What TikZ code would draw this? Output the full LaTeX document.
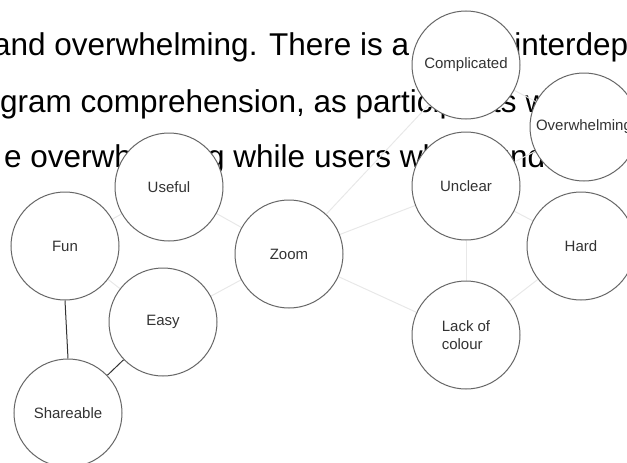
\documentclass[tikz,border=0pt]{standalone}
\usepackage{fontspec}
\setmainfont{Liberation Sans}
\usepackage{xcolor}
\definecolor{ringgray}{RGB}{102,102,102}
\definecolor{labelgray}{RGB}{51,51,51}
\definecolor{faintgray}{RGB}{232,232,232}
\definecolor{darkedge}{RGB}{51,51,51}
\pgfdeclarelayer{back}
\pgfsetlayers{back,main}
\tikzset{
  topic/.style={circle, draw=ringgray, line width=1pt, fill=white, minimum size=108pt,
    inner sep=0pt, text=labelgray, font=\fontsize{15}{18}\selectfont, align=left},
  prose/.style={anchor=base west, inner sep=0pt, font=\fontsize{31.5}{38}\selectfont},
  weak/.style={draw=faintgray, line width=1pt},
  strong/.style={draw=darkedge, line width=1pt}
}

\begin{document}
\begin{tikzpicture}[x=1pt,y=-1pt]
\useasboundingbox (0,0) rectangle (627,463);

%Shape: Circle nodes
\node[topic] (compl) at (466,65) {Complicated};
\node[topic] (overw) at (584,127) {Overwhelming};
\node[topic] (unclear) at (466,186) {Unclear};
\node[topic] (hard) at (581,246) {Hard};
\node[topic] (lack) at (466,335) {Lack of\\colour};
\node[topic] (zoom) at (289,254) {Zoom};
\node[topic] (useful) at (169,187) {Useful};
\node[topic] (fun) at (65,246) {Fun};
\node[topic] (easy) at (163,322) {Easy};
\node[topic] (share) at (68,413) {Shareable};

\begin{pgfonlayer}{back}
% Text Node
\node[prose] (line2) at (-7,55) {and overwhelming. There is a strong interdependence};
% Text Node
\node[prose] (line3) at (0,112) {gram comprehension, as participants who};
% Text Node
\node[prose] (line4) at (4,167) {e overwhelming while users who found};

%Straight Lines
\draw[strong] (fun.south) -- (share.north);
\draw[strong] (easy) -- (share);
%Straight Lines
\draw[weak] (useful) -- (fun);
\draw[weak] (fun) -- (easy);
\draw[weak] (useful) -- (zoom);
\draw[weak] (easy) -- (zoom);
\draw[weak] (zoom) -- (compl);
\draw[weak] (zoom) -- (unclear);
\draw[weak] (zoom) -- (lack);
\draw[weak] (compl) -- (overw);
\draw[weak] (unclear) -- (overw);
\draw[weak] (unclear) -- (hard);
\draw[weak] (unclear) -- (lack);
\draw[weak] (hard) -- (lack);
\end{pgfonlayer}

\end{tikzpicture}
\end{document}
